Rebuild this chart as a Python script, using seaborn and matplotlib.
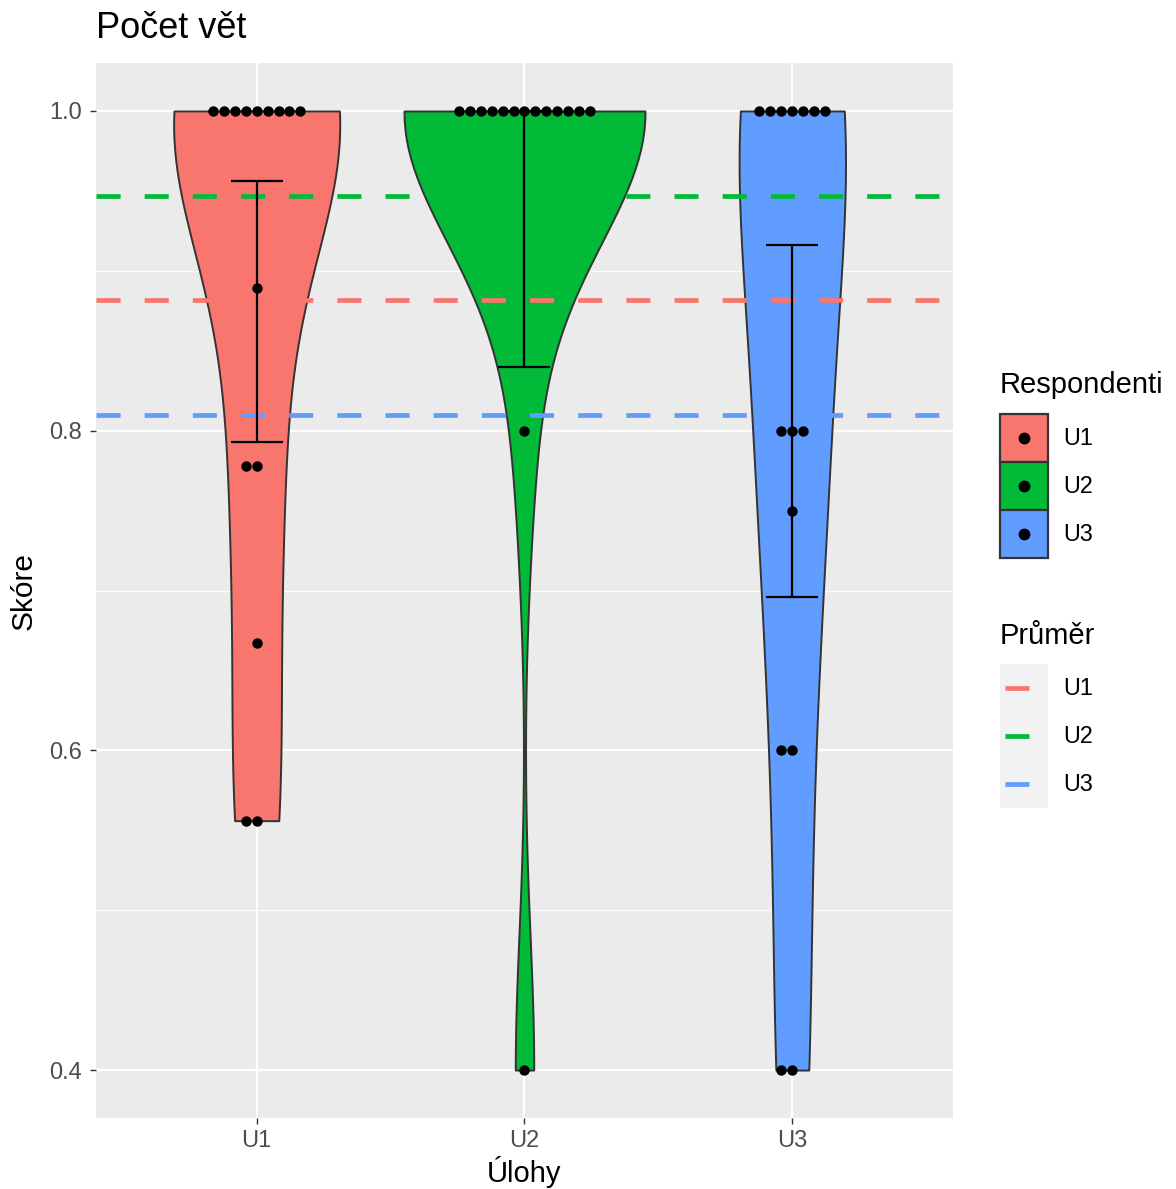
import numpy as np
import pandas as pd
import matplotlib
matplotlib.use("Agg")
import matplotlib.pyplot as plt
from matplotlib.patches import Rectangle
from matplotlib.lines import Line2D
from matplotlib.legend_handler import HandlerBase
import seaborn as sns

plt.rcParams['font.family'] = ['Liberation Sans', 'DejaVu Sans']

# data (15 respondents per task)
tasks = ["U1", "U2", "U3"]
u1_scores = [1.0, 1.0, 1.0, 1.0, 1.0, 1.0, 1.0, 1.0, 1.0,
             0.889, 0.778, 0.778, 0.667, 0.556, 0.556]
u2_scores = [1.0, 1.0, 1.0, 1.0, 1.0, 1.0, 1.0, 1.0, 1.0, 1.0, 1.0, 1.0, 1.0,
             0.8, 0.4]
u3_scores = [1.0, 1.0, 1.0, 1.0, 1.0, 1.0, 1.0,
             0.8, 0.8, 0.8, 0.75, 0.6, 0.6, 0.4, 0.4]
err_low = [0.793, 0.840, 0.696]
err_high = [0.956, 1.0, 0.916]
colors = ["#F8766D", "#00BA38", "#619CFF"]

df = pd.DataFrame({
    "Úloha": ["U1"] * len(u1_scores) + ["U2"] * len(u2_scores) + ["U3"] * len(u3_scores),
    "Skóre": u1_scores + u2_scores + u3_scores,
})
means = df.groupby("Úloha")["Skóre"].mean().reindex(tasks).values

fig = plt.figure(figsize=(11.76, 11.89), dpi=100)
ax = fig.add_axes([96/1176, 1 - 1118/1189, (953 - 96)/1176, (1118 - 63)/1189])
ax.set_facecolor("#EBEBEB")

# violins without hue so the area scaling is shared, then colour them
sns.violinplot(data=df, x="Úloha", y="Skóre", order=tasks, color="white",
               saturation=1, inner=None, cut=0, bw_adjust=0.9,
               density_norm="area", width=0.9, linecolor="#333333",
               linewidth=1.4, ax=ax, zorder=2)
for coll, c in zip(ax.collections, colors):
    coll.set_facecolor(c)

for m, c in zip(means, colors):
    ax.axhline(m, color=c, lw=3.4, ls=(0, (5.1, 5.1)), zorder=3)

x = np.arange(len(tasks))
ax.errorbar(x, means, yerr=[means - np.array(err_low), np.array(err_high) - means],
            fmt="none", ecolor="black", elinewidth=1.6, capsize=19,
            capthick=1.6, zorder=4)

sns.swarmplot(data=df, x="Úloha", y="Skóre", order=tasks, color="black",
              size=7.5, ax=ax, zorder=5)

ax.set_xlim(-0.6, 2.6)
ax.set_ylim(0.37, 1.03)
ax.set_yticks([0.4, 0.6, 0.8, 1.0])
ax.set_yticklabels(["0.4", "0.6", "0.8", "1.0"])
ax.set_yticks([0.5, 0.7, 0.9], minor=True)
ax.set_axisbelow(True)
ax.grid(which="major", color="white", lw=1.6)
ax.grid(which="minor", axis="y", color="white", lw=0.8)
for s in ax.spines.values():
    s.set_visible(False)
ax.tick_params(which="major", length=4.5, width=1, color="#333333",
               labelcolor="#4D4D4D", labelsize=17, pad=4)
ax.tick_params(axis="y", which="major", pad=5.5)
ax.tick_params(which="minor", length=0)

ax.set_xlabel("Úlohy", fontsize=21, labelpad=3)
ax.set_ylabel("Skóre", fontsize=21.5, labelpad=8.5)
ax.set_title("Počet vět", loc="left", fontsize=26, pad=18)


# legend keys drawn the ggplot way
class FillKey(HandlerBase):
    def create_artists(self, legend, orig_handle, xdescent, ydescent,
                       width, height, fontsize, trans):
        rect = Rectangle((-xdescent, -ydescent), width, height,
                         facecolor=orig_handle, edgecolor="#333333", lw=1.6,
                         transform=trans)
        dot = Line2D([width / 2 - xdescent], [height / 2 - ydescent],
                     marker="o", color="black", ls="none", markersize=7.5,
                     transform=trans)
        return [rect, dot]


class LineKey(HandlerBase):
    def create_artists(self, legend, orig_handle, xdescent, ydescent,
                       width, height, fontsize, trans):
        rect = Rectangle((-xdescent, -ydescent), width, height,
                         facecolor="#F2F2F2", edgecolor="none", transform=trans)
        y = height / 2 - ydescent
        line = Line2D([-xdescent + 0.1 * width, -xdescent + 0.6 * width], [y, y],
                      color=orig_handle, lw=3.4, solid_capstyle="butt",
                      transform=trans)
        return [rect, line]


leg_kw = dict(loc="upper left", frameon=False, fontsize=16.8,
              handlelength=2.05, handleheight=2.79, handletextpad=0.68,
              labelspacing=0, borderpad=0, borderaxespad=0)

fig.text(1000/1176, 1 - 385/1189, "Respondenti", fontsize=21, va="center", ha="left")
fig.legend(colors, tasks, bbox_to_anchor=(1000/1176, 1 - 414/1189),
           handler_map={str: FillKey()}, **leg_kw)

fig.text(1000/1176, 1 - 636/1189, "Průměr", fontsize=21, va="center", ha="left")
fig.legend(colors, tasks, bbox_to_anchor=(1000/1176, 1 - 664/1189),
           handler_map={str: LineKey()}, **leg_kw)

fig.savefig("out.png", dpi=100)
